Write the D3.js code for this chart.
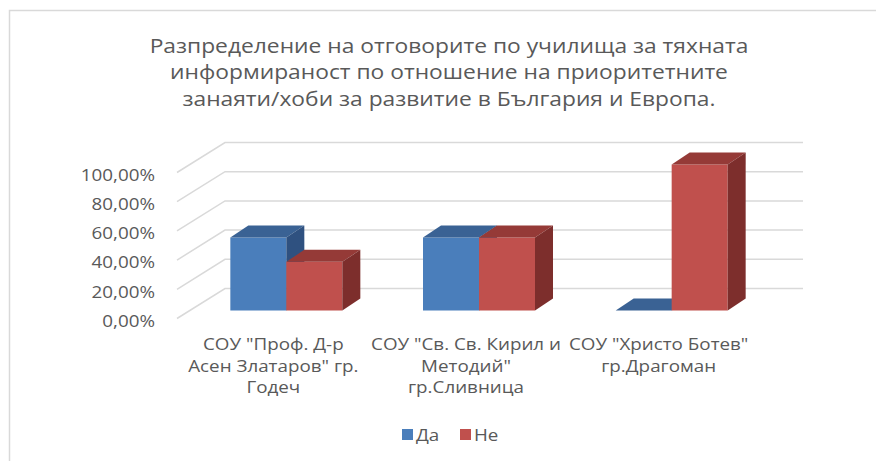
<!DOCTYPE html>
<html>
<head>
<meta charset="utf-8">
<script src="https://cdn.jsdelivr.net/npm/d3@7"></script>
<style>
    body { margin: 0; background: #fff; }
    svg text { font-family: "Open Sans", sans-serif; fill: #595959; }
</style>
</head>
<body>
<div id="chart"></div>
<script>
'use strict';

var titleLines = [
    'Разпределение на отговорите по училища за тяхната',
    'информираност по отношение на приоритетните',
    'занаяти/хоби за развитие в България и Европа.'
];
var categories = ['Годеч', 'Сливница', 'Драгоман'];
var categoryLabels = [
    ['СОУ "Проф. Д-р', 'Асен Златаров" гр.', 'Годеч'],
    ['СОУ "Св. Св. Кирил и', 'Методий"', 'гр.Сливница'],
    ['СОУ "Христо Ботев"', 'гр.Драгоман']
];
var seriesNames = ['Да', 'Не'];
var daValues = [0.5, 0.5, 0];
var neValues = [0.3333, 0.5, 1];
var tickValues = [0, 0.2, 0.4, 0.6, 0.8, 1];

var width = 876, height = 461;
var stretch = 1.14;   // source picture is horizontally stretched
var colors = {
    'Да': { front: '#4a7ebb', top: '#3a6294', side: '#2f5180' },
    'Не': { front: '#c0504d', top: '#953a37', side: '#7d2e2c' }
};

var wallDepth = [48, -30];   // front plane -> back wall
var barOffset = [13, -8];    // front plane -> bar front face
var barDepth = [18, -12];

var locale = d3.formatLocale({ decimal: ',', thousands: ' ', grouping: [3], currency: ['', ''] });
var pct = locale.format('.2%');

var svg = d3.select('#chart').append('svg')
    .attr('width', width)
    .attr('height', height);

// chart frame
svg.append('path')
    .attr('d', 'M9.5,' + height + 'V10.5H' + width)
    .attr('fill', 'none')
    .attr('stroke', '#d9d9d9')
    .attr('stroke-width', 1.5);

// title
svg.append('g')
    .attr('transform', 'translate(449,0) scale(' + stretch + ',1)')
    .selectAll('text')
    .data(titleLines)
    .join('text')
    .attr('x', 0)
    .attr('y', function(d, i) { return 53 + i * 26.5; })
    .attr('text-anchor', 'middle')
    .attr('font-size', 20)
    .text(function(d) { return d; });

var x = d3.scaleBand().domain(categories).range([177, 755]);
var xInner = d3.scaleBand().domain(seriesNames).range([0, 112]);
var y = d3.scaleLinear().domain([0, 1]).range([318.5, 172.5]);

// gridlines: diagonal on side wall + horizontal on back wall
var grid = svg.append('g')
    .attr('stroke', '#d9d9d9')
    .attr('stroke-width', 1.5)
    .attr('fill', 'none');
grid.selectAll('path')
    .data(tickValues)
    .join('path')
    .attr('d', function(v) {
        var x0 = x.range()[0], y0 = y(v);
        return 'M' + x0 + ',' + y0 +
            'L' + (x0 + wallDepth[0]) + ',' + (y0 + wallDepth[1]) +
            'H' + (x.range()[1] + wallDepth[0]);
    });

// y axis labels
var yAxis = d3.axisLeft(y)
    .tickValues(tickValues)
    .tickFormat(pct)
    .tickSize(0)
    .tickPadding(0);
svg.append('g')
    .attr('transform', 'translate(155,2.5) scale(' + stretch + ',1)')
    .call(yAxis)
    .call(function(g) { g.select('.domain').remove(); })
    .selectAll('text')
    .attr('font-family', null)
    .attr('font-size', 16.5)
    .style('fill', '#595959');

// bars
var rows = [];
categories.forEach(function(c, i) {
    rows.push({ cat: c, series: 'Да', value: daValues[i] });
    rows.push({ cat: c, series: 'Не', value: neValues[i] });
});

var bars = svg.append('g').selectAll('g')
    .data(rows)
    .join('g');

function barGeom(d) {
    var bw = xInner.bandwidth();
    var x0 = x(d.cat) + (x.bandwidth() - 112) / 2 + xInner(d.series) + barOffset[0];
    var y0 = y(0) + barOffset[1];
    var y1 = y(d.value) + barOffset[1];
    return { x0: x0, x1: x0 + bw, y0: y0, y1: y1 };
}

bars.append('path')
    .attr('fill', function(d) { return colors[d.series].front; })
    .attr('d', function(d) {
        var g = barGeom(d);
        return 'M' + g.x0 + ',' + g.y0 + 'H' + g.x1 + 'V' + g.y1 + 'H' + g.x0 + 'Z';
    });
bars.append('path')
    .attr('fill', function(d) { return colors[d.series].top; })
    .attr('d', function(d) {
        var g = barGeom(d);
        return 'M' + g.x0 + ',' + g.y1 + 'L' + g.x1 + ',' + g.y1 +
            'L' + (g.x1 + barDepth[0]) + ',' + (g.y1 + barDepth[1]) +
            'L' + (g.x0 + barDepth[0]) + ',' + (g.y1 + barDepth[1]) + 'Z';
    });
bars.append('path')
    .attr('fill', function(d) { return colors[d.series].side; })
    .attr('d', function(d) {
        var g = barGeom(d);
        if (g.y0 - g.y1 < 0.5) return null;
        return 'M' + g.x1 + ',' + g.y0 + 'L' + g.x1 + ',' + g.y1 +
            'L' + (g.x1 + barDepth[0]) + ',' + (g.y1 + barDepth[1]) +
            'L' + (g.x1 + barDepth[0]) + ',' + (g.y0 + barDepth[1]) + 'Z';
    });

// category labels
var catG = svg.append('g').selectAll('text')
    .data(categories)
    .join('text')
    .attr('transform', function(d) {
        return 'translate(' + (x(d) + x.bandwidth() / 2) + ',0) scale(' + stretch + ',1)';
    })
    .attr('text-anchor', 'middle')
    .attr('font-size', 16.5);
catG.selectAll('tspan')
    .data(function(d, i) { return categoryLabels[i]; })
    .join('tspan')
    .attr('x', 0)
    .attr('y', function(d, i) { return 350 + i * 21.7; })
    .text(function(d) { return d; });

// legend
var legend = svg.append('g').selectAll('g')
    .data(seriesNames)
    .join('g')
    .attr('transform', function(d, i) { return 'translate(' + (402 + i * 58) + ',429)'; });
legend.append('rect')
    .attr('width', 11)
    .attr('height', 11)
    .attr('fill', function(d) { return colors[d].front; });
legend.append('text')
    .attr('transform', 'translate(14,0) scale(' + stretch + ',1)')
    .attr('y', 11.5)
    .attr('font-size', 16.5)
    .text(function(d) { return d; });
</script>
</body>
</html>
